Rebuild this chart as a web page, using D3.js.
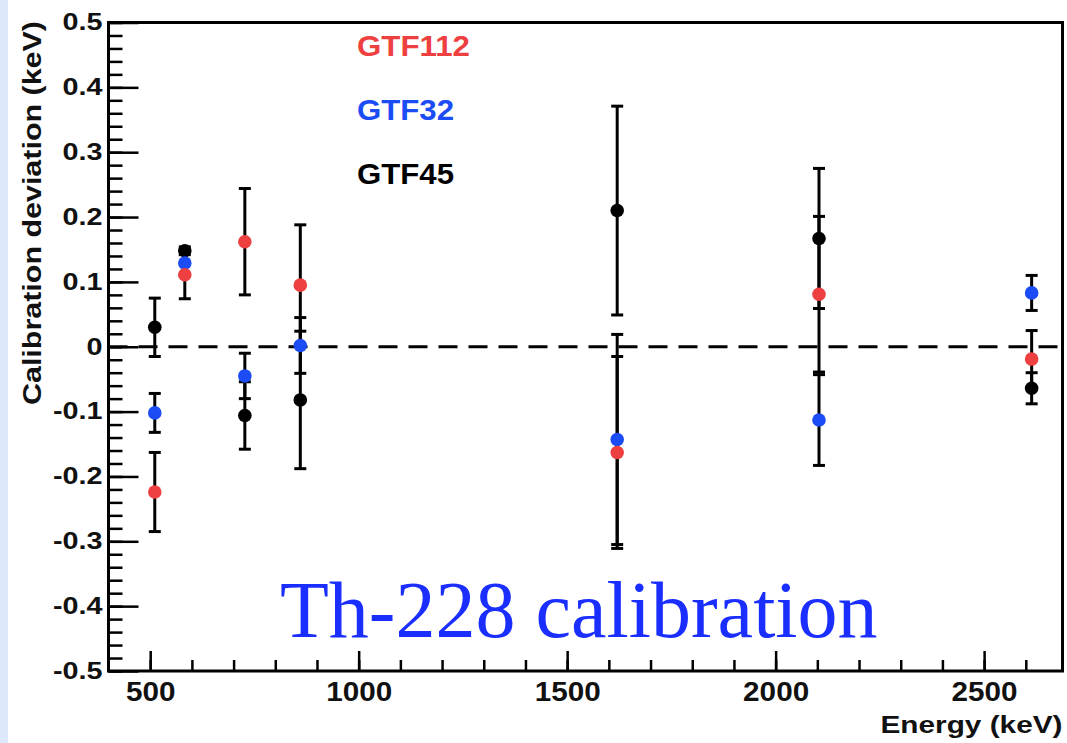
<!DOCTYPE html>
<html>
<head>
<meta charset="utf-8">
<script src="https://cdn.jsdelivr.net/npm/d3@7"></script>
<style>
  body { margin: 0; background: #ffffff; }
  svg { display: block; }
</style>
</head>
<body>
<div id="chart"></div>
<script>
// Th-228 line energies (keV)
const energies = [511, 583, 727, 860, 1620, 2104, 2614];

// calibration deviation per detector (keV) and its error
const gtf112Values = [-0.224, 0.111, 0.162, 0.095, -0.163, 0.081, -0.019];
const gtf112Errors = [0.061, 0.037, 0.082, 0.093, 0.148, 0.12, 0.044];
const gtf32Values = [-0.102, 0.129, -0.045, 0.002, -0.143, -0.113, 0.083];
const gtf32Errors = [0.03, 0.02, 0.035, 0.043, 0.162, 0.07, 0.027];
const gtf45Values = [0.03, 0.148, -0.106, -0.082, 0.21, 0.167, -0.064];
const gtf45Errors = [0.045, 0.006, 0.052, 0.106, 0.161, 0.108, 0.024];

const seriesNames = ["GTF112", "GTF32", "GTF45"];
const seriesColors = ["#ee4040", "#1c4cf5", "#000000"];

const xMajorTicks = [500, 1000, 1500, 2000, 2500];
const yMajorTicks = [0.5, 0.4, 0.3, 0.2, 0.1, 0, -0.1, -0.2, -0.3, -0.4, -0.5];

const config = {
  width: 1067,
  height: 743,
  left: 108.5,
  right: 1062.5,
  top: 22.5,
  bottom: 671,
  font: "'Liberation Sans', Arial, Helvetica, sans-serif",
};

// build one table for the plotting
const series = [
  { name: seriesNames[0], color: seriesColors[0], values: gtf112Values, errors: gtf112Errors },
  { name: seriesNames[1], color: seriesColors[1], values: gtf32Values, errors: gtf32Errors },
  { name: seriesNames[2], color: seriesColors[2], values: gtf45Values, errors: gtf45Errors },
];
const points = [];
series.forEach((s) => {
  energies.forEach((e, i) => {
    points.push({ name: s.name, color: s.color, energy: e, value: s.values[i], error: s.errors[i] });
  });
});

const svg = d3
  .select("#chart")
  .append("svg")
  .attr("width", config.width)
  .attr("height", config.height);

// light blue strip on the left edge of the slide
svg.append("rect").attr("x", 0).attr("y", 0).attr("width", 8).attr("height", config.height).attr("fill", "#dde8fb");

const x = d3.scaleLinear().domain([400, 2688]).range([config.left, config.right]);
const y = d3.scaleLinear().domain([-0.5, 0.5]).range([config.bottom, config.top]);

// stretch text horizontally like the original picture
function stretch(sel, factor) {
  sel.each(function () {
    const len = this.getComputedTextLength();
    d3.select(this).attr("textLength", len * factor).attr("lengthAdjust", "spacingAndGlyphs");
  });
}

// minor ticks first
svg
  .append("g")
  .attr("transform", `translate(${config.left},0)`)
  .call(d3.axisLeft(y).tickValues(d3.range(-0.5, 0.5001, 0.02)).tickSize(-14).tickFormat(""))
  .call((g) => g.select(".domain").remove())
  .call((g) => g.selectAll("line").attr("stroke", "#000").attr("stroke-width", 2.5));

svg
  .append("g")
  .attr("transform", `translate(0,${config.bottom})`)
  .call(d3.axisBottom(x).tickValues(d3.range(500, 2601, 100)).tickSize(-11).tickFormat(""))
  .call((g) => g.select(".domain").remove())
  .call((g) => g.selectAll("line").attr("stroke", "#000").attr("stroke-width", 2.5));

// major ticks with labels
const yAxis = svg
  .append("g")
  .attr("transform", `translate(${config.left},0)`)
  .call(
    d3
      .axisLeft(y)
      .tickValues(yMajorTicks)
      .tickSize(-30)
      .tickPadding(6)
      .tickFormat((d) => (d === 0 ? "0" : String(+d.toFixed(1))))
  )
  .call((g) => g.select(".domain").remove());
yAxis.selectAll("line").attr("stroke", "#000").attr("stroke-width", 2.5);
yAxis
  .selectAll("text")
  .attr("fill", "#111")
  .style("font-family", config.font)
  .style("font-weight", "bold")
  .style("font-size", "23px")
  .call(stretch, 1.25);

const xAxis = svg
  .append("g")
  .attr("transform", `translate(0,${config.bottom})`)
  .call(d3.axisBottom(x).tickValues(xMajorTicks).tickSize(-20).tickPadding(10).tickFormat(d3.format("d")))
  .call((g) => g.select(".domain").remove());
xAxis.selectAll("line").attr("stroke", "#000").attr("stroke-width", 2.5);
xAxis
  .selectAll("text")
  .attr("fill", "#111")
  .style("font-family", config.font)
  .style("font-weight", "bold")
  .style("font-size", "28px")
  .call(stretch, 1.06);

// frame
svg
  .append("rect")
  .attr("x", config.left)
  .attr("y", config.top)
  .attr("width", config.right - config.left)
  .attr("height", config.bottom - config.top)
  .attr("fill", "none")
  .attr("stroke", "#000")
  .attr("stroke-width", 3);

// dashed zero line
svg
  .append("line")
  .attr("x1", config.left)
  .attr("x2", config.right)
  .attr("y1", y(0))
  .attr("y2", y(0))
  .attr("stroke", "#000")
  .attr("stroke-width", 3)
  .attr("stroke-dasharray", "19,11");

// error bars (all drawn in black)
const bars = svg.append("g");
bars
  .selectAll(".err")
  .data(points)
  .enter()
  .append("line")
  .attr("x1", (d) => x(d.energy))
  .attr("x2", (d) => x(d.energy))
  .attr("y1", (d) => y(d.value + d.error))
  .attr("y2", (d) => y(d.value - d.error))
  .attr("stroke", "#000")
  .attr("stroke-width", 3);
[1, -1].forEach((sign) => {
  bars
    .selectAll(".cap" + sign)
    .data(points)
    .enter()
    .append("line")
    .attr("x1", (d) => x(d.energy) - 6)
    .attr("x2", (d) => x(d.energy) + 6)
    .attr("y1", (d) => y(d.value + sign * d.error))
    .attr("y2", (d) => y(d.value + sign * d.error))
    .attr("stroke", "#000")
    .attr("stroke-width", 3);
});

// markers: black first, then blue, then red on top
const drawOrder = [2, 1, 0];
drawOrder.forEach((k) => {
  svg
    .append("g")
    .selectAll("circle")
    .data(points.filter((d) => d.name === seriesNames[k]))
    .enter()
    .append("circle")
    .attr("cx", (d) => x(d.energy))
    .attr("cy", (d) => y(d.value))
    .attr("r", 6.8)
    .attr("fill", seriesColors[k]);
});

// legend
const legendY = [56, 120, 184];
const legendW = [113, 97, 97];
seriesNames.forEach((name, i) => {
  svg
    .append("text")
    .attr("x", 357)
    .attr("y", legendY[i])
    .attr("fill", seriesColors[i])
    .attr("textLength", legendW[i])
    .attr("lengthAdjust", "spacingAndGlyphs")
    .style("font-family", config.font)
    .style("font-weight", "bold")
    .style("font-size", "30px")
    .text(name);
});

// axis titles
svg
  .append("text")
  .attr("x", config.right)
  .attr("y", 733)
  .attr("text-anchor", "end")
  .attr("fill", "#111")
  .attr("textLength", 182)
  .attr("lengthAdjust", "spacingAndGlyphs")
  .style("font-family", config.font)
  .style("font-weight", "bold")
  .style("font-size", "24px")
  .text("Energy (keV)");

svg
  .append("text")
  .attr("transform", "translate(41,21) rotate(-90)")
  .attr("text-anchor", "end")
  .attr("fill", "#111")
  .attr("textLength", 384)
  .attr("lengthAdjust", "spacingAndGlyphs")
  .style("font-family", config.font)
  .style("font-weight", "bold")
  .style("font-size", "25px")
  .text("Calibration deviation (keV)");

// big annotation
svg
  .append("text")
  .attr("x", 280)
  .attr("y", 637)
  .attr("fill", "#1a2eff")
  .style("font-family", "'Liberation Serif', 'Times New Roman', serif")
  .style("font-size", "80px")
  .text("Th-228 calibration");
</script>
</body>
</html>
